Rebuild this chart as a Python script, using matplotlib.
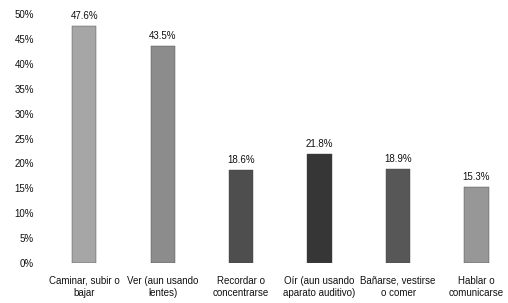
import matplotlib
matplotlib.use("Agg")
import matplotlib.pyplot as plt

categories = ["Caminar, subir o\nbajar", "Ver (aun usando\nlentes)", "Recordar o\nconcentrarse",
              "Oír (aun usando\naparato auditivo)", "Bañarse, vestirse\no comer", "Hablar o\ncomunicarse"]
values = [47.6, 43.5, 18.6, 21.8, 18.9, 15.3]
colors = ["#a6a6a6", "#8c8c8c", "#4e4e4e", "#363636", "#575757", "#979797"]
yticks = [0, 5, 10, 15, 20, 25, 30, 35, 40, 45, 50]

plt.rcParams["font.family"] = ["Liberation Sans", "DejaVu Sans"]

fig = plt.figure(figsize=(5.08, 3.03), dpi=100)
ax = fig.add_axes([45/508, 40/303, 459/508, 249/303])
x = list(range(len(values)))
ax.bar(x, values, width=0.31, color=colors, edgecolor="#444444", linewidth=0.3)
for xi, v in zip(x, values):
    ax.text(xi, v + 1.0, f"{v:.1f}%", ha="center", va="bottom", fontsize=7, color="#111111")
ax.set_xlim(-0.5, 5.35)
ax.set_ylim(0, 50)
ax.set_yticks(yticks)
ax.set_yticklabels([f"{t}%" for t in yticks], fontsize=7, color="#111111")
ax.set_xticks(x)
ax.set_xticklabels(categories, fontsize=7, color="#111111", linespacing=1.35)
ax.tick_params(axis="x", length=0, pad=9)
ax.tick_params(axis="y", length=0, pad=8)
for s in ax.spines.values():
    s.set_visible(False)
fig.savefig("out.png", dpi=100)
